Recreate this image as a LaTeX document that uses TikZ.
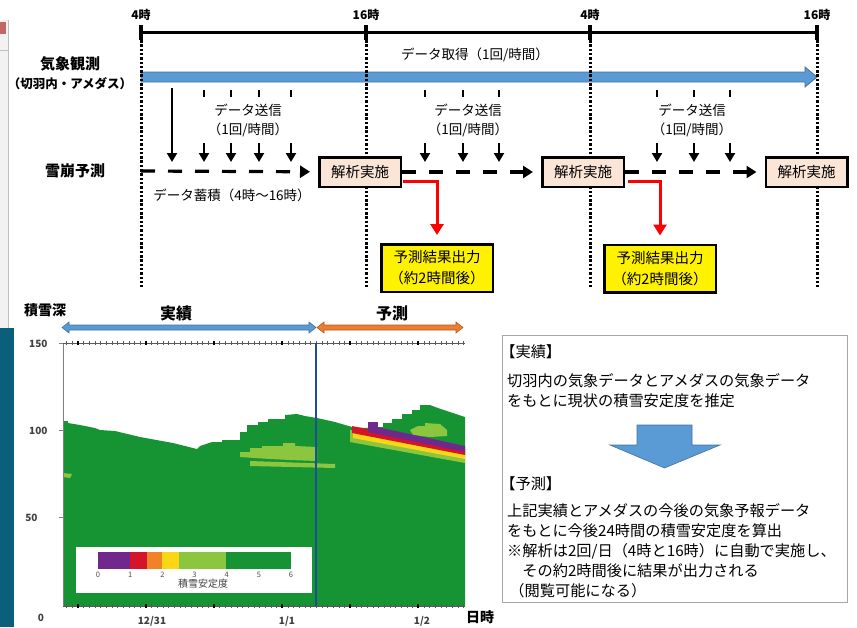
\documentclass[tikz,border=0pt]{standalone}
\usepackage{fontspec}
\setmainfont{Noto Sans CJK JP}
\usepackage{tikz}
\usetikzlibrary{arrows.meta, positioning}
\definecolor{obsblue}{RGB}{91,155,213}
\definecolor{obsedge}{RGB}{65,113,156}
\definecolor{boxpink}{RGB}{251,229,214}
\definecolor{fcorange}{RGB}{237,125,49}
\definecolor{fcedge}{RGB}{174,90,33}
\definecolor{snowgreen}{RGB}{22,148,52}
\definecolor{litegreen}{RGB}{140,198,63}
\definecolor{snowpurple}{RGB}{112,40,140}
\definecolor{snowred}{RGB}{212,20,40}
\definecolor{snoworange}{RGB}{240,130,40}
\definecolor{snowyellow}{RGB}{250,215,20}
\definecolor{nowline}{RGB}{31,78,150}
\definecolor{tealbar}{RGB}{10,95,122}
\newcommand{\fsz}[2]{\fontsize{#1}{#2}\selectfont}

\begin{document}
\begin{tikzpicture}[x=1pt, y=-1pt,
  rowlbl/.style={font=\bfseries\fsz{15}{17}},
  hourlbl/.style={font=\bfseries\fsz{12}{14}},
  plainlbl/.style={font=\fsz{13.5}{19}, align=center},
  sendlbl/.style={plainlbl, fill=white, minimum width=100pt, minimum height=46pt, inner sep=0pt},
  runbox/.style={draw, line width=2.5pt, fill=boxpink, font=\fsz{14.5}{17}, minimum width=81.5pt, minimum height=29.5pt, inner sep=0pt},
  outbox/.style={draw, line width=2.5pt, fill=yellow, align=center, font=\fsz{14.5}{21}, minimum width=111.5pt, minimum height=47.5pt, inner sep=0pt},
  sendarrow/.style={line width=2.5pt, -{Triangle[length=9pt,width=10pt]}},
  storearrow/.style={line width=3.2pt, dash pattern=on 14pt off 13pt, -{Triangle[length=10pt,width=12pt]}, shorten >=8pt},
  outarrow/.style={red, line width=3pt, -{Triangle[length=11pt,width=13pt]}, shorten >=8pt},
  timedots/.style={line width=3pt, dash pattern=on 2.5pt off 1.8pt},
  axnum/.style={font=\bfseries\fsz{10}{12}, text=black!75},
  memo/.style={align=left, anchor=north west, font=\fsz{15.2}{20}, inner sep=0pt}
]
\useasboundingbox (0,0) rectangle (857,627);
% edge of the screen around the figure
\fill[gray!10] (0,20) rectangle (8,328);
\fill[red!60!black!60] (0,22) rectangle (6,34);
\draw[gray!50] (8,20) -- (8,328) (0,50) -- (8,50);
\fill[tealbar] (0,328) rectangle (14,627);

\begin{scope}
\fill[obsblue, draw=obsedge, line width=0.8pt] (141,72) -- (805,72) -- (805,67) -- (817,77) -- (805,87) -- (805,82) -- (141,82) -- cycle;
\node[plainlbl] (getlbl) at (475,55) {データ取得（1回/時間）};
\foreach \n/\x/\t in {1/141/4時, 2/366/16時, 3/590/4時, 4/817/16時} {
  \node[hourlbl] (h\n) at (\x,15) {\t};
  \coordinate (tk\n) at (\x,25);
  \coordinate (tm\n) at (\x,40);
  \coordinate (tb\n) at (\x,287);
  \draw[line width=3.5pt] (tk\n) -- (tm\n);
  \draw[timedots] (tm\n) -- (tb\n);
}
\draw[line width=3pt] (141,32) -- (817,32);
\node[rowlbl] (obs) at (70,64) {気象観測};
\node[font=\bfseries\fsz{12.5}{14}] (obssub) at (70,84) {（切羽内・アメダス）};
\node[rowlbl] (pred) at (75,171) {雪崩予測};

\coordinate (sa0) at (172,88);
\coordinate (sb0) at (172,162);
\draw[sendarrow] (sa0) -- (sb0);
\foreach \x [count=\i] in {204,231,259,291,425,463,499,657,694,730} {
  \coordinate (sa\i) at (\x,90);
  \coordinate (sb\i) at (\x,162);
  \draw[sendarrow] (sa\i) -- (sb\i);
}
\foreach \x [count=\i] in {248,468,692}
  \node[sendlbl] (send\i) at (\x,120) {データ送信\\（1回/時間）};

\node[runbox] (run1) at (360,172) {解析実施};
\node[runbox] (run2) at (583,172) {解析実施};
\node[runbox] (run3) at (806.5,172) {解析実施};
\node[outbox] (out1) at (437,268) {予測結果出力\\（約2時間後）};
\node[outbox] (out2) at (660,268.5) {予測結果出力\\（約2時間後）};
\node[plainlbl] (storelbl) at (232,195) {データ蓄積（4時～16時）};

\coordinate (p0) at (141,171);
\draw[storearrow] (p0) -- (run1);
\draw[storearrow] (run1) -- (run2);
\draw[storearrow] (run2) -- (run3);
\draw[outarrow] ([xshift=1pt,yshift=-9pt]run1.east) -| (out1);
\draw[outarrow] ([xshift=3pt,yshift=-9pt]run2.east) -| (out2);
\end{scope}

\begin{scope}
\node[font=\bfseries\fsz{14}{16}] (depth) at (45,310) {積雪深};
\node[font=\bfseries\fsz{16}{18}] (past) at (176,313) {実績};
\node[font=\bfseries\fsz{16}{18}] (future) at (392,313) {予測};
\fill[obsblue, draw=obsedge, line width=0.6pt] (62,327.5) -- (69,322) -- (69,325) -- (309,325) -- (309,322) -- (316,327.5) -- (309,333) -- (309,330) -- (69,330) -- (69,333) -- cycle;
\fill[fcorange, draw=fcedge, line width=0.6pt] (317,327.5) -- (324,322) -- (324,325) -- (456,325) -- (456,322) -- (463,327.5) -- (456,333) -- (456,330) -- (324,330) -- (324,333) -- cycle;

\fill[snowgreen] (63,606) -- (63,421) -- (68,421) -- (68,423) -- (80,425) -- (95,428) -- (100,430) -- (115,431) -- (140,437) -- (173,443) -- (197,449) -- (200,446) -- (212,442) -- (222,442) -- (222,440) -- (240,440) -- (240,432) -- (247,432) -- (247,425) -- (258,425) -- (258,422) -- (268,422) -- (268,419) -- (285,419) -- (285,415) -- (297,414) -- (305,416) -- (317,418) -- (335,422) -- (352,427) -- (365,428) -- (383,427) -- (383,423) -- (392,423) -- (392,419) -- (402,419) -- (402,414) -- (412,414) -- (412,410) -- (420,410) -- (420,405) -- (430,405) -- (438,408) -- (450,412) -- (465,417) -- (465,606) -- cycle;
\fill[litegreen] (240,452) -- (250,452) -- (250,448) -- (262,448) -- (262,446) -- (283,446) -- (283,443) -- (295,443) -- (295,446) -- (317,447) -- (317,461) -- (290,460) -- (270,459) -- (240,457) -- cycle;
\fill[litegreen] (250,461) -- (335,464) -- (335,468) -- (250,466) -- cycle;
\fill[litegreen] (63,473) -- (72,474) -- (70,478) -- (63,477) -- cycle;
\fill[litegreen] (410,430) -- (418,426) -- (425,426) -- (425,423) -- (440,424) -- (447,430) -- (447,436) -- (430,437) -- (413,435) -- cycle;
\fill[litegreen] (350,430) -- (465,452) -- (465,463) -- (350,442) -- cycle;
\fill[snowyellow] (353,431) -- (465,453) -- (465,459) -- (353,438) -- cycle;
\fill[snowred] (352,426) -- (465,449) -- (465,455) -- (352,433) -- cycle;
\fill[snowpurple] (368,425) -- (465,446) -- (465,452) -- (368,432) -- cycle;
\fill[snowpurple] (368,422) rectangle (378,430);

\draw[gray, line width=0.8pt] (63,343) -- (63,606);
\foreach \y in {343,430,517} \draw[gray] (59,\y) -- (63,\y);
\foreach \y in {343,606} {
  \draw[gray!70!black, line width=0.8pt] (63,\y) -- (465,\y);
  \foreach \i in {0,...,70} \draw[gray!70!black, line width=0.6pt] ({66.7+\i*5.67},\y-2) -- ++(0,4);
  \foreach \i in {0,...,5} \draw[black, line width=1.6pt] ({78+\i*68},\y-2) -- ++(0,4);
}
\draw[nowline, line width=2pt] (316,343) -- (316,606);

\fill[white] (76,547) rectangle (312,593);
\fill[snowpurple] (98,552) rectangle (130,569);
\fill[snowred] (130,552) rectangle (147,569);
\fill[snoworange] (147,552) rectangle (162,569);
\fill[snowyellow] (162,552) rectangle (179,569);
\fill[litegreen] (179,552) rectangle (226,569);
\fill[snowgreen] (226,552) rectangle (291,569);
\foreach \v in {0,...,6}
  \node[font=\fsz{7.5}{8}, text=black!70] (lg\v) at ({98+\v*32.17},575) {\v};
\node[font=\fsz{10}{12}, text=black!75] (lgname) at (203,584) {積雪安定度};

\node[axnum, anchor=east] (ax150) at (51,344) {150};
\node[axnum, anchor=east] (ax100) at (51,431) {100};
\node[axnum, anchor=east] (ax50) at (41,518) {50};
\node[axnum] (ax0) at (41,618) {0};
\node[axnum] (d1231) at (152,621) {12/31};
\node[axnum] (d11) at (287,621) {1/1};
\node[axnum] (d12) at (422,621) {1/2};
\node[font=\bfseries\fsz{14}{16}] (xname) at (480,617) {日時};
\end{scope}

\node[draw=gray!70, line width=0.8pt, minimum width=345pt, minimum height=267pt, inner sep=0pt] (memobox) at (675,469) {};
\node[memo] (memo1) at (507,344) {\hspace*{-0.45em}【実績】\\[9pt]切羽内の気象データとアメダスの気象データ\\をもとに現状の積雪安定度を推定};
\node[memo] (memo2) at (507,476) {\hspace*{-0.45em}【予測】\\[7pt]上記実績とアメダスの今後の気象予報データ\\をもとに今後24時間の積雪安定度を算出\\※解析は2回/日（4時と16時）に自動で実施し、\\\hspace*{1em}その約2時間後に結果が出力される\\\hspace*{0.15em}（閲覧可能になる）};
\fill[obsblue, draw=obsedge, line width=0.6pt] (637,425) -- (692,425) -- (692,445) -- (720,445) -- (664.5,468) -- (610,445) -- (637,445) -- cycle;
\end{tikzpicture}
\end{document}
